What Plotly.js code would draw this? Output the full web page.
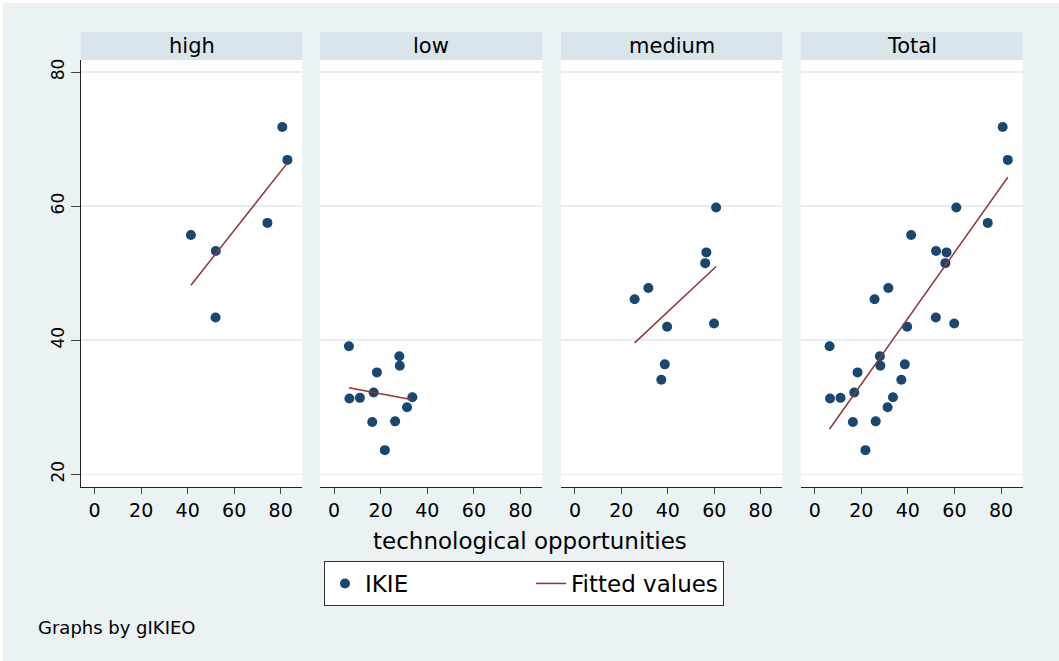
<!DOCTYPE html>
<html><head><meta charset="utf-8">
<script src="https://cdn.plot.ly/plotly-3.0.1.min.js"></script>
<style>html,body{margin:0;padding:0;background:#ffffff;} #chart{position:absolute;left:3px;top:3px;width:1056px;height:658px;}</style>
</head><body><div id="chart"></div>
<script>
// ---- data ----
const panels = ['high', 'low', 'medium', 'Total'];
const highX = [41.4, 52.1, 52.0, 74.3, 80.7, 82.9];
const highY = [55.7, 53.3, 43.4, 57.5, 71.8, 66.9];
const lowX = [6.4, 28.0, 28.2, 18.4, 17.0, 6.6, 11.1, 33.6, 31.3, 16.4, 26.2, 21.8];
const lowY = [39.1, 37.6, 36.2, 35.2, 32.2, 31.3, 31.4, 31.5, 30.0, 27.8, 27.9, 23.6];
const mediumX = [60.8, 56.6, 56.1, 31.6, 25.7, 39.7, 59.9, 38.7, 37.2];
const mediumY = [59.8, 53.1, 51.5, 47.8, 46.1, 42.0, 42.5, 36.4, 34.1];
const xTicks = [0, 20, 40, 60, 80];
const yTicks = [20, 40, 60, 80];
const seriesNames = ['IKIE', 'Fitted values'];
const xTitle = 'technological opportunities';
const note = 'Graphs by gIKIEO';

// Total panel = all groups together
const totalX = highX.concat(lowX, mediumX);
const totalY = highY.concat(lowY, mediumY);
const groupX = [highX, lowX, mediumX, totalX];
const groupY = [highY, lowY, mediumY, totalY];

// ---- styling ----
const FONT = 'DejaVu Sans, Arial, sans-serif';
const NAVY = '#1a476f', MAROON = '#90353b';
const BG = '#eaf2f3', STRIP = '#d9e5ea', GRID = '#e6eef1';
const W = 1056, H = 658, OX = 3, OY = 3;
const fx = px => (px - OX) / W;
const fy = py => 1 - (py - OY) / H;
const panelPx = [[80.7, 302.3], [320, 542.3], [561, 782.3], [800.7, 1022.7]];
const plotTop = 60, plotBot = 486.7, stripTop = 31.7;

function ols(xs, ys) {
  const n = xs.length;
  const mx = xs.reduce((a, b) => a + b, 0) / n;
  const my = ys.reduce((a, b) => a + b, 0) / n;
  let sxy = 0, sxx = 0;
  for (let i = 0; i < n; i++) { sxy += (xs[i] - mx) * (ys[i] - my); sxx += (xs[i] - mx) ** 2; }
  const b = sxy / sxx, a = my - b * mx;
  const x0 = Math.min(...xs), x1 = Math.max(...xs);
  return { x: [x0, x1], y: [a + b * x0, a + b * x1] };
}

const traces = [];
const layout = {
  width: W, height: H,
  margin: { l: 0, r: 0, t: 0, b: 0 },
  paper_bgcolor: BG, plot_bgcolor: '#ffffff',
  font: { family: FONT, color: '#000' },
  showlegend: true,
  legend: {
    orientation: 'h', x: fx(324), y: fy(561), xanchor: 'left', yanchor: 'top',
    bgcolor: '#ffffff', bordercolor: '#333', borderwidth: 1,
    font: { family: FONT, size: 23, color: '#000' }
  },
  shapes: [], annotations: []
};

panels.forEach((name, i) => {
  const sfx = i === 0 ? '' : String(i + 1);
  const xa = 'x' + sfx, ya = 'y' + sfx;
  traces.push({
    type: 'scatter', mode: 'markers', x: groupX[i], y: groupY[i], xaxis: xa, yaxis: ya,
    name: seriesNames[0], showlegend: i === 0, legendwidth: 161,
    marker: { color: NAVY, size: 10 }, hoverinfo: 'x+y'
  });
  const fit = ols(groupX[i], groupY[i]);
  traces.push({
    type: 'scatter', mode: 'lines', x: fit.x, y: fit.y, xaxis: xa, yaxis: ya,
    name: seriesNames[1], showlegend: i === 0,
    line: { color: MAROON, width: 1.5 }, hoverinfo: 'x+y'
  });
  const dom = [fx(panelPx[i][0]), fx(panelPx[i][1])];
  layout['xaxis' + sfx] = {
    domain: dom, anchor: ya, range: [-6, 89.3],
    tickvals: xTicks, ticktext: xTicks.map(String),
    showgrid: false, zeroline: false, showline: true, linecolor: '#222', linewidth: 1,
    ticks: 'outside', ticklen: 6, tickcolor: '#444', tickwidth: 1,
    tickfont: { family: FONT, size: 19, color: '#000' }, fixedrange: true
  };
  layout['yaxis' + sfx] = {
    domain: [fy(plotBot), fy(plotTop)], anchor: xa, range: [18.15, 81.8],
    tickvals: yTicks, ticktext: yTicks.map(String),
    showgrid: true, gridcolor: GRID, gridwidth: 1.5, zeroline: false,
    showline: i === 0, linecolor: '#222', linewidth: 1,
    ticks: i === 0 ? 'outside' : '', ticklen: 9, tickcolor: '#444', tickwidth: 1,
    showticklabels: i === 0, tickangle: -90,
    tickfont: { family: FONT, size: 17, color: '#000' }, fixedrange: true
  };
  layout.shapes.push({
    type: 'rect', xref: 'paper', yref: 'paper', x0: dom[0], x1: dom[1],
    y0: fy(plotTop), y1: fy(stripTop), fillcolor: STRIP, line: { width: 0 }, layer: 'below'
  });
  layout.annotations.push({
    xref: 'paper', yref: 'paper', x: (dom[0] + dom[1]) / 2, y: fy((stripTop + plotTop) / 2),
    xanchor: 'center', yanchor: 'middle', showarrow: false, text: name,
    font: { family: FONT, size: 21, color: '#000' }
  });
});

layout.annotations.push({
  xref: 'paper', yref: 'paper', x: fx(530), y: fy(541), xanchor: 'center', yanchor: 'middle',
  showarrow: false, text: xTitle, font: { family: FONT, size: 23, color: '#000' }
});
layout.annotations.push({
  xref: 'paper', yref: 'paper', x: fx(36), y: fy(627), xanchor: 'left', yanchor: 'middle',
  showarrow: false, text: note, font: { family: FONT, size: 18, color: '#000' }
});

Plotly.newPlot('chart', traces, layout, { staticPlot: true, displayModeBar: false });
</script></body></html>
